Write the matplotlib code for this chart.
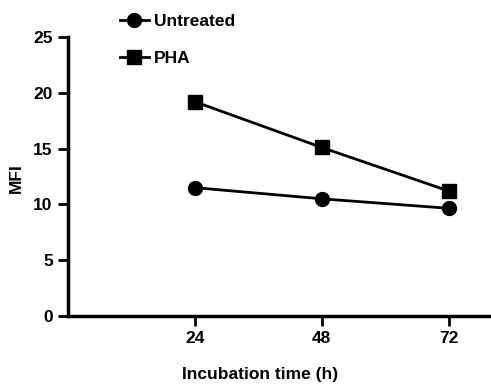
import matplotlib
matplotlib.use("Agg")
import matplotlib.pyplot as plt

plt.rcParams['font.family'] = ['Liberation Sans', 'DejaVu Sans']
plt.rcParams['font.weight'] = 'bold'

hours = [24, 48, 72]
untreated = [11.5, 10.5, 9.65]
pha = [19.2, 15.1, 11.2]
yticks = [0, 5, 10, 15, 20, 25]
xticks = [24, 48, 72]

fig = plt.figure(figsize=(4.91, 3.9), dpi=100)
ax = fig.add_axes([68/491, 1-316/390, 1-68/491, (316-37)/390])

ax.plot(hours, untreated, color='black', lw=2, marker='o', ms=10, label='Untreated', clip_on=False)
ax.plot(hours, pha, color='black', lw=2, marker='s', ms=9.5, label='PHA', clip_on=False)

ax.set_xlim(0, 80)
ax.set_ylim(0, 25)
ax.set_xticks(xticks)
ax.set_yticks(yticks)
ax.tick_params(axis='both', labelsize=12.5, width=2, length=7, direction='out', pad=4)
for s in ['top', 'right']:
    ax.spines[s].set_visible(False)
for s in ['left', 'bottom']:
    ax.spines[s].set_linewidth(2.5)
for lbl in ax.get_xticklabels() + ax.get_yticklabels():
    lbl.set_fontweight('bold')

ax.set_ylabel('MFI', fontsize=12.5, fontweight='bold')
ax.yaxis.set_label_coords((24-68)/423, 0.495)
ax.set_xlabel('Incubation time (h)', fontsize=12.5, fontweight='bold')
ax.xaxis.set_label_coords((260-68)/423, -(367-316)/279)

fig.legend(loc='upper left', bbox_to_anchor=(104/491, 1+2/390), frameon=False,
           handlelength=1.7, handletextpad=0.3, labelspacing=1.25,
           prop={'weight': 'bold', 'size': 12.5})

fig.savefig('out.png', dpi=100)
